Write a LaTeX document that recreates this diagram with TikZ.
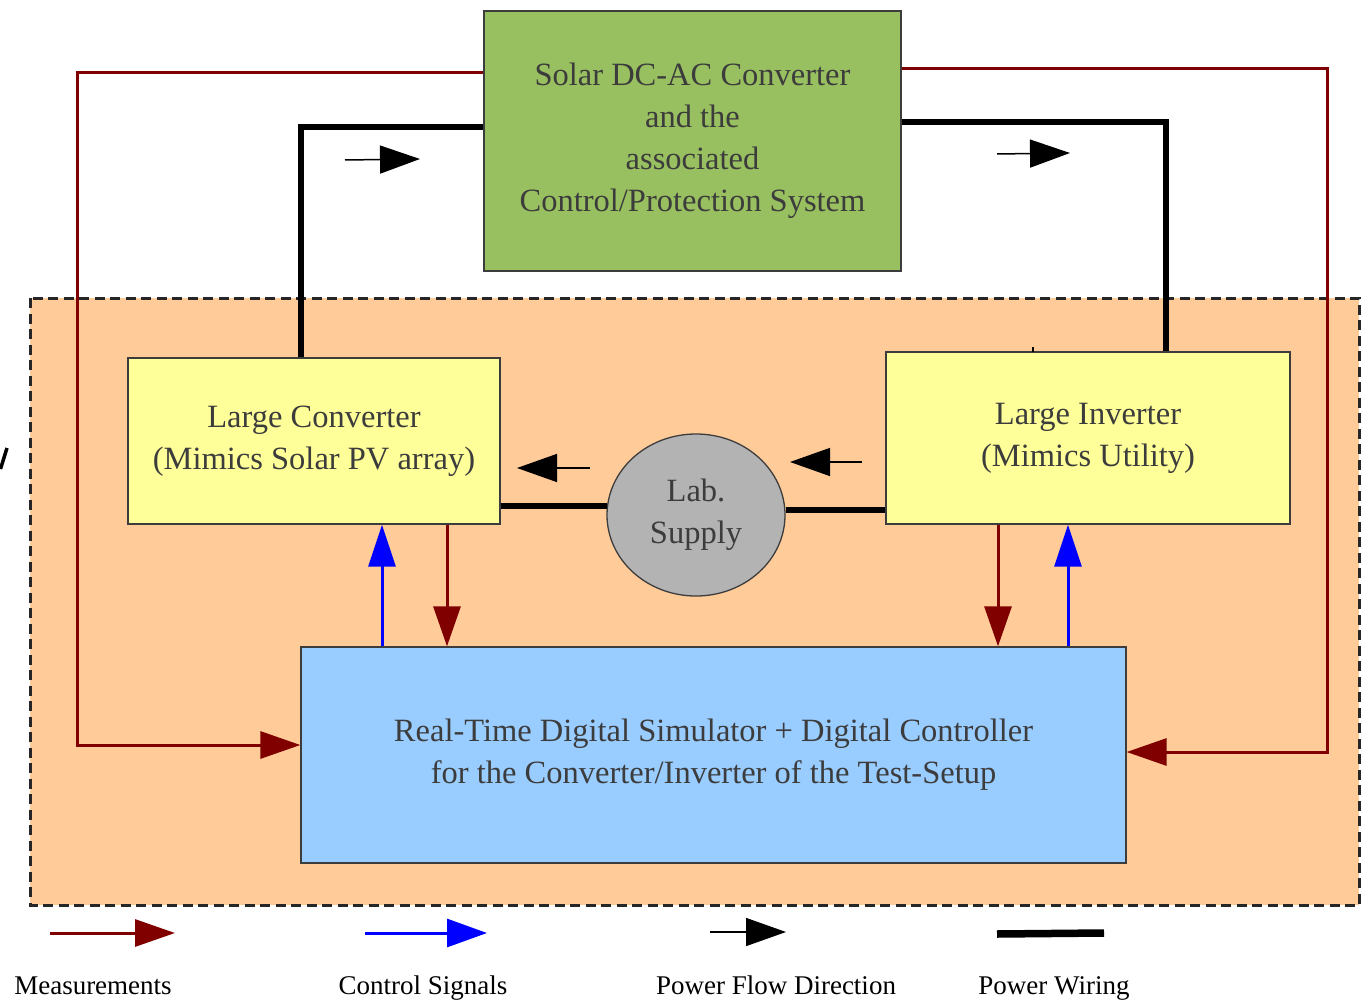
\documentclass[tikz,border=0pt]{standalone}
\usepackage{fontspec}
\setmainfont{Liberation Serif}
\usetikzlibrary{arrows.meta,shapes.geometric}

\definecolor{peach}{RGB}{255,204,153}
\definecolor{leafgreen}{RGB}{153,192,96}
\definecolor{paleyellow}{RGB}{255,255,153}
\definecolor{skyblue}{RGB}{153,204,255}
\definecolor{supplygray}{RGB}{179,179,179}
\definecolor{measred}{RGB}{128,0,0}
\definecolor{ctrlblue}{RGB}{0,0,255}
\definecolor{inkgray}{RGB}{60,60,60}

\begin{document}
\begin{tikzpicture}[x=1pt,y=-1pt,
  box/.style={draw=inkgray, line width=1.3pt, text=inkgray, align=center,
    inner sep=0pt, font=\fontsize{32.5}{42}\selectfont},
  wire/.style={line width=6pt, black},
  meas/.style={line width=3pt, measred, -{Triangle[length=40pt,width=27pt]}},
  ctrl/.style={line width=3pt, ctrlblue, -{Triangle[length=42pt,width=27pt]}},
  flow/.style={line width=1.5pt, black, -{Triangle[length=40pt,width=28pt]}},
  legendtext/.style={anchor=base, font=\fontsize{27}{32}\selectfont, text=black}]

\useasboundingbox (0,0) rectangle (1362,1000);

% test-setup region
\draw[fill=peach, draw=black!85, line width=3pt, dash pattern=on 10pt off 5.5pt]
  (30,298) rectangle (1359,905);

% partly visible glyph at the left edge
\draw[line width=3.5pt] (0.5,469) -- (7,448);

% blocks
\node[box, fill=leafgreen, minimum width=417pt, minimum height=260pt] (green) at (692.5,141)
  {Solar DC-AC Converter\\and the\\associated\\Control/Protection System};
\node[box, fill=paleyellow, minimum width=372pt, minimum height=166pt] (conv) at (314,441)
  {Large Converter\\(Mimics Solar PV array)};
\node[box, fill=paleyellow, minimum width=404pt, minimum height=172pt] (inv) at (1088,438)
  {Large Inverter\\(Mimics Utility)};
\node[box, ellipse, fill=supplygray, minimum width=178pt, minimum height=162pt] (lab) at (696,515)
  {Lab.\\Supply};
\node[box, fill=skyblue, minimum width=825pt, minimum height=216pt] (rtds) at (713.5,755)
  {Real-Time Digital Simulator + Digital Controller\\for the Converter/Inverter of the Test-Setup};

\draw[line width=1.5pt] (1033,347) -- (1033,352);

% power wiring
\coordinate (pvcorner) at (301,127);
\coordinate (gridcorner) at (1166,122);
\draw[wire] (pvcorner |- conv.north) -- (pvcorner) -- (pvcorner -| green.west);
\draw[wire] (gridcorner -| green.east) -- (gridcorner) -- (gridcorner |- inv.north);
\draw[wire] (lab.174 -| conv.east) -- (lab.174);
\draw[wire] (lab.3) -- (lab.3 -| inv.west);

% measurement loops from the solar converter
\coordinate (loopLtop) at (77,73);
\coordinate (loopLbot) at (77,745);
\coordinate (loopRtop) at (1327,69);
\coordinate (loopRbot) at (1327,752);
\draw[meas] (loopLtop -| green.west) -- (loopLtop) -- (loopLbot) -- (loopLbot -| rtds.west);
\draw[meas] (loopRtop -| green.east) -- (loopRtop) -- (loopRbot) -- (loopRbot -| rtds.east);

% measurements and control signals between blocks and simulator
\coordinate (convmeas) at (447,0);
\coordinate (convctrl) at (382,0);
\coordinate (invmeas) at (998,0);
\coordinate (invctrl) at (1068,0);
\draw[meas] (convmeas |- conv.south) -- (convmeas |- rtds.north);
\draw[ctrl] (convctrl |- rtds.north) -- (convctrl |- conv.south);
\draw[meas] (invmeas |- inv.south) -- (invmeas |- rtds.north);
\draw[ctrl] (invctrl |- rtds.north) -- (invctrl |- inv.south);

% power flow direction markers
\coordinate (pfAs) at (345,160); \coordinate (pfAe) at (420,159);
\coordinate (pfBs) at (997,154); \coordinate (pfBe) at (1070,153);
\coordinate (pfCs) at (590,468); \coordinate (pfCe) at (517,468);
\coordinate (pfDs) at (862,462); \coordinate (pfDe) at (790,462);
\draw[flow] (pfAs) -- (pfAe);
\draw[flow] (pfBs) -- (pfBe);
\draw[flow] (pfCs) -- (pfCe);
\draw[flow] (pfDs) -- (pfDe);

% legend
\coordinate (lgMs) at (50,933);  \coordinate (lgMe) at (175,933);
\coordinate (lgCs) at (365,933); \coordinate (lgCe) at (487,933);
\coordinate (lgFs) at (710,932); \coordinate (lgFe) at (786,932);
\coordinate (lgWs) at (997,934); \coordinate (lgWe) at (1104,933);
\draw[meas] (lgMs) -- (lgMe);
\draw[ctrl, -{Triangle[length=40pt,width=28pt]}] (lgCs) -- (lgCe);
\draw[flow] (lgFs) -- (lgFe);
\draw[line width=7.5pt] (lgWs) -- (lgWe);

\node[legendtext] (lgMt) at (93,994) {Measurements};
\node[legendtext] (lgCt) at (423,994) {Control Signals};
\node[legendtext] (lgFt) at (776,994) {Power Flow Direction};
\node[legendtext] (lgWt) at (1054,994) {Power Wiring};
\end{tikzpicture}
\end{document}
